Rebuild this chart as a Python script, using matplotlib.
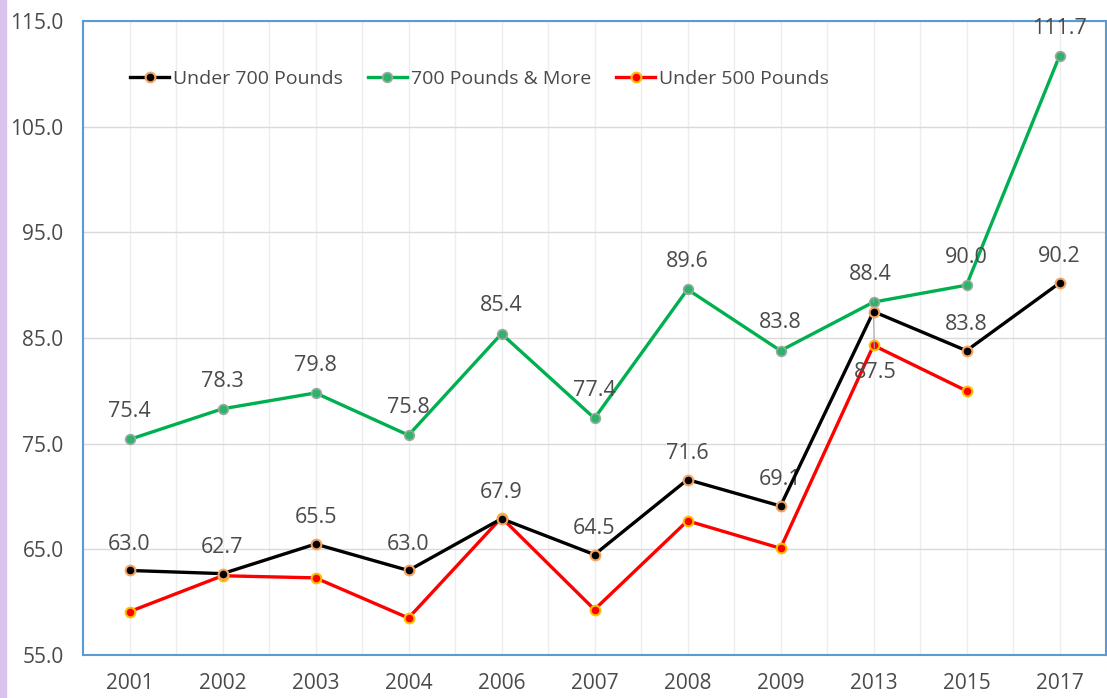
import numpy as np
import matplotlib.pyplot as plt
from matplotlib.patches import Rectangle

years = ['2001', '2002', '2003', '2004', '2006', '2007', '2008', '2009', '2013', '2015', '2017']
under700 = [63.0, 62.7, 65.5, 63.0, 67.9, 64.5, 71.6, 69.1, 87.5, 83.8, 90.2]
over700 = [75.4, 78.3, 79.8, 75.8, 85.4, 77.4, 89.6, 83.8, 88.4, 90.0, 111.7]
under500 = [59.1, 62.5, 62.3, 58.5, 68.0, 59.3, 67.7, 65.1, 84.3, 80.0]

plt.rcParams['font.family'] = ['Open Sans', 'DejaVu Sans']
txt = '#4a4a4a'

fig = plt.figure(figsize=(11.07, 6.98), dpi=100)
ax = fig.add_axes([83/1107, 1-655/698, (1106-83)/1107, (655-21)/698])

# purple strip on the left edge
fig.patches.append(Rectangle((0, 0), 6/1107, 1, transform=fig.transFigure,
                             color='#d9c2ec', zorder=0))

x = np.arange(len(years))
ax.plot(x, under700, color='black', lw=2.4, marker='o', ms=7,
        mfc='black', mec='#f4a460', mew=1.5, label='Under 700 Pounds', zorder=4)
ax.plot(x, over700, color='#00b050', lw=2.4, marker='o', ms=7,
        mfc='#2db36a', mec='#9aa89f', mew=1.2, label='700 Pounds & More', zorder=3)
ax.plot(x[:len(under500)], under500, color='#ff0000', lw=2.4, marker='o', ms=7,
        mfc='#ff0000', mec='#ffc000', mew=1.5, label='Under 500 Pounds', zorder=3)

lbl = dict(ha='center', va='center', fontsize=15.5, color=txt)
leader = dict(arrowstyle='-', color='#a6a6a6', lw=0.8, shrinkA=8, shrinkB=4)

# data labels
for i, v in enumerate(over700):
    if years[i] == '2013':
        ax.annotate(f'{v:.1f}', (i, v), xytext=(-2, 20), textcoords='offset points',
                    arrowprops=leader, **lbl)
    else:
        ax.annotate(f'{v:.1f}', (i, v), xytext=(0, 20), textcoords='offset points', **lbl)
for i, v in enumerate(under700):
    if years[i] == '2013':
        ax.annotate(f'{v:.1f}', (i, v), xytext=(1, -44), textcoords='offset points',
                    arrowprops=leader, **lbl)
    else:
        ax.annotate(f'{v:.1f}', (i, v), xytext=(0, 19), textcoords='offset points', **lbl)

ax.set_xlim(-0.5, len(years) - 0.5)
ax.set_ylim(55, 115)
ax.set_xticks(x)
ax.set_xticklabels(years)
ax.set_xticks(np.arange(-0.5, len(years), 1), minor=True)
ax.set_yticks(np.arange(55, 116, 10))
ax.set_yticklabels([f'{t:.1f}' for t in np.arange(55, 116, 10)])
ax.tick_params(axis='both', which='both', length=0, labelsize=15, colors=txt)
ax.tick_params(axis='x', pad=13)
ax.tick_params(axis='y', pad=14)

ax.grid(axis='y', color='#d9d9d9', lw=1)
ax.grid(axis='x', which='both', color='#ededed', lw=1)
ax.set_axisbelow(True)
for s in ax.spines.values():
    s.set_color('#5b9bd5')
    s.set_linewidth(1.5)

ax.legend(loc='center left', bbox_to_anchor=(0.046, 0.9085), ncol=3, frameon=False,
          fontsize=14, labelcolor=txt, handlelength=2.0, handletextpad=0.2,
          columnspacing=1.3, borderaxespad=0, borderpad=0)

fig.savefig('out.png', dpi=100, facecolor='white')
